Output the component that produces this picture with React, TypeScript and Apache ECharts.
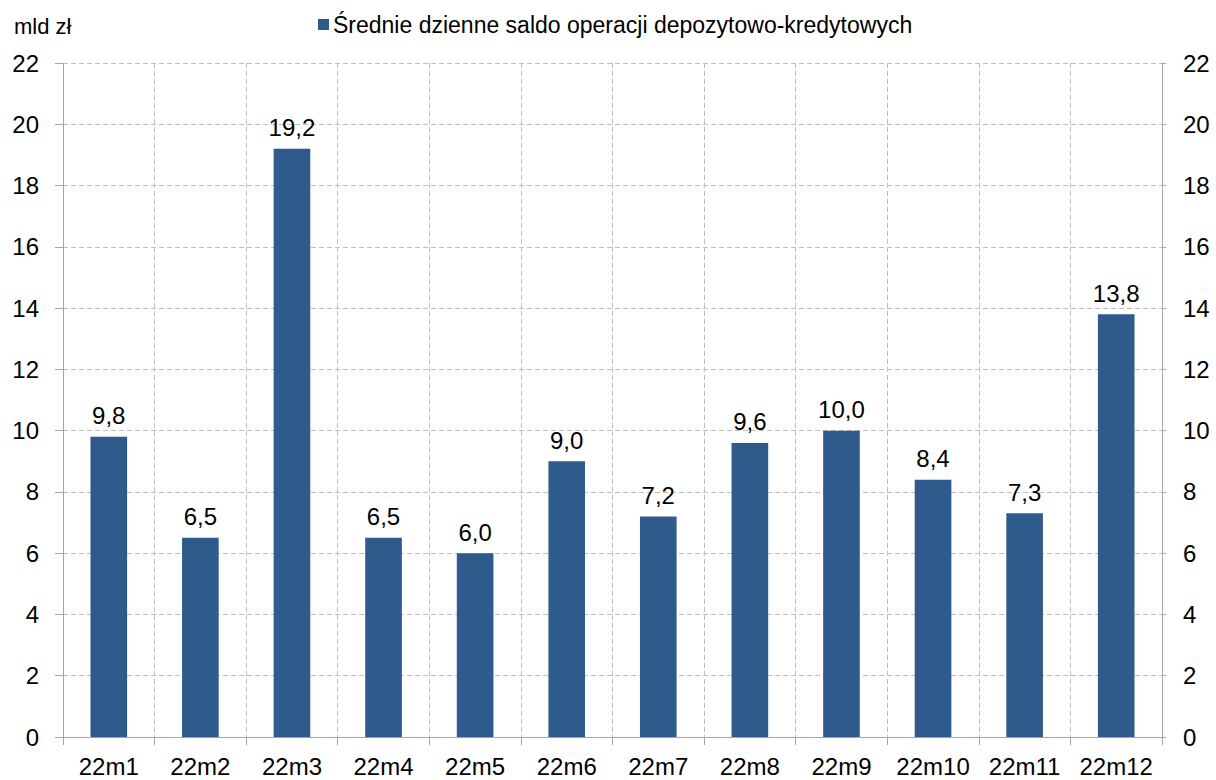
import React, { useEffect, useRef } from "react";
import * as echarts from "echarts";

const categories = ["22m1", "22m2", "22m3", "22m4", "22m5", "22m6", "22m7", "22m8", "22m9", "22m10", "22m11", "22m12"];
const values = [9.8, 6.5, 19.2, 6.5, 6.0, 9.0, 7.2, 9.6, 10.0, 8.4, 7.3, 13.8];
const seriesName = "Średnie dzienne saldo operacji depozytowo-kredytowych";
const unitLabel = "mld zł";

export default function App() {
  const ref = useRef<HTMLDivElement>(null);
  useEffect(() => {
    if (!ref.current) return;
    const chart = echarts.init(ref.current, null, { renderer: "svg" });
    const font = "'Liberation Sans', Arial, sans-serif";
    const axisColor = "#a6a6a6";
    const gridColor = "#bfbfbf";
    const yAxisBase = {
      type: "value",
      min: 0,
      max: 22,
      interval: 2,
      axisLine: { show: true, lineStyle: { color: axisColor, width: 1 } },
      axisTick: { show: true, length: 8, lineStyle: { color: axisColor } },
      axisLabel: { color: "#000", fontSize: 24, fontFamily: font, margin: 24 },
    };
    chart.setOption({
      animation: false,
      textStyle: { fontFamily: font },
      grid: { left: 63, right: 54, top: 63, bottom: 43, containLabel: false },
      legend: {
        show: true,
        left: 318,
        top: 13,
        padding: 0,
        icon: "rect",
        itemWidth: 11,
        itemHeight: 11,
        itemGap: 4,
        textStyle: { fontSize: 23, color: "#000", fontFamily: font, padding: [0, 0, 0, -1] },
        data: [seriesName],
      },
      graphic: [
        {
          type: "text",
          left: 14,
          top: 15,
          style: { text: unitLabel, fontSize: 22, fill: "#000", fontFamily: font },
        },
      ],
      xAxis: {
        type: "category",
        data: categories,
        boundaryGap: true,
        axisLine: { show: true, lineStyle: { color: axisColor, width: 1 } },
        axisTick: { show: true, length: 8, alignWithLabel: false, lineStyle: { color: axisColor } },
        axisLabel: { color: "#000", fontSize: 24, fontFamily: font, margin: 17, interval: 0 },
        splitLine: { show: true, lineStyle: { color: gridColor, type: [5, 3], width: 1 } },
      },
      yAxis: [
        {
          ...yAxisBase,
          position: "left",
          splitLine: { show: true, lineStyle: { color: gridColor, type: [5, 3], width: 1 } },
        },
        {
          ...yAxisBase,
          position: "right",
          axisTick: { show: true, length: 4, lineStyle: { color: axisColor } },
          axisLabel: { color: "#000", fontSize: 24, fontFamily: font, margin: 21 },
          splitLine: { show: false },
        },
      ],
      series: [
        {
          name: seriesName,
          type: "bar",
          data: values,
          barWidth: "40%",
          itemStyle: { color: "#2E5A8C" },
          label: {
            show: true,
            position: "top",
            distance: 9,
            fontSize: 24,
            color: "#000",
            fontFamily: font,
            formatter: (p: any) => Number(p.value).toFixed(1).replace(".", ","),
          },
        },
      ],
    });
    return () => chart.dispose();
  }, []);
  return (
    <div
      ref={ref}
      style={{ position: "absolute", left: 0, top: 0, width: 1216, height: 780, background: "#fff" }}
    />
  );
}
